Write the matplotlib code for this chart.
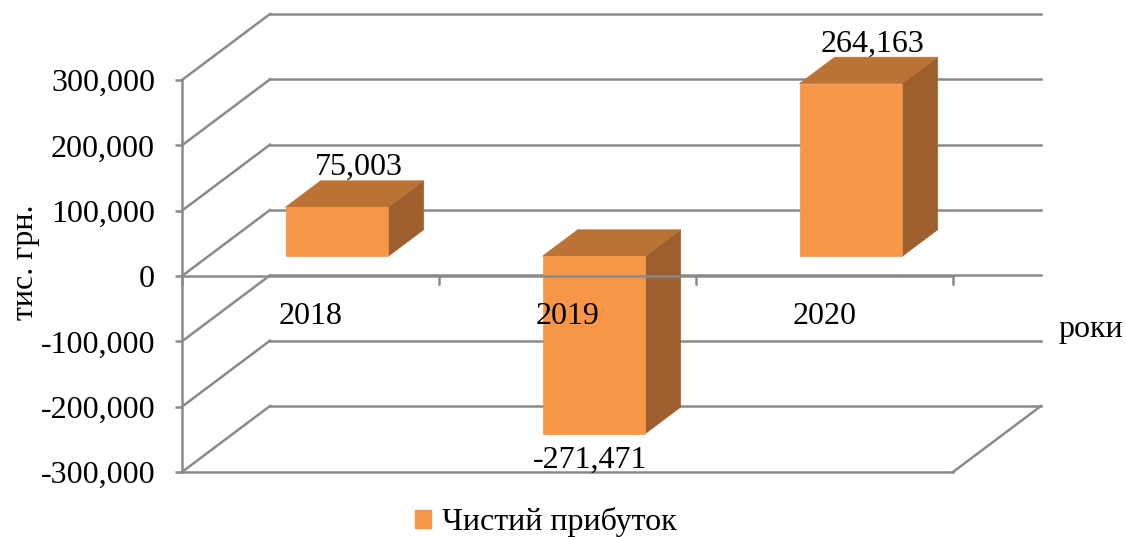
import matplotlib
matplotlib.use('Agg')
import matplotlib.pyplot as plt
from matplotlib.patches import Polygon, Patch

categories = ['2018', '2019', '2020']
values = [75003, -271471, 264163]
yticks = [-300000, -200000, -100000, 0, 100000, 200000, 300000]
series_name = 'Чистий прибуток'
y_title = 'тис. грн.'
x_title = 'роки'

plt.rcParams['font.family'] = ['Liberation Serif', 'DejaVu Serif']
FS = 23
PT = 0.72  # points per pixel at dpi 100

W, H = 1126, 537
fig = plt.figure(figsize=(W / 100, H / 100), dpi=100)
ax = fig.add_axes([182 / W, (H - 472) / H, (953 - 182) / W, (472 - 80) / H])
n = len(categories)
ymin, ymax = yticks[0], yticks[-1]
ax.set_xlim(0, n)
ax.set_ylim(ymin, ymax)

# depth vector (data units)
DX = 88 / 257
DY = 66 * (ymax - ymin) / 392

grid = '#8a8a8a'
LW = 1.8

# back wall gridlines and side wall diagonals
for v in yticks:
    ax.plot([DX, n + DX], [v + DY, v + DY], color=grid, lw=LW, clip_on=False, zorder=1)
    ax.plot([0, DX], [v, v + DY], color=grid, lw=LW, clip_on=False, zorder=1)
# floor edges
ax.plot([0, n], [ymin, ymin], color=grid, lw=LW, clip_on=False, zorder=1)
ax.plot([n, n + DX], [ymin, ymin + DY], color=grid, lw=LW, clip_on=False, zorder=1)

# 3D bars
f0, f1 = 0.3, 0.7
bw = 0.4
c_front, c_top, c_side = '#F79646', '#BB7235', '#9C5F2D'


def P(x, y, f):
    return (x + f * DX, y + f * DY)


for i, v in enumerate(values):
    x0 = i + 0.5 - bw / 2
    x1 = i + 0.5 + bw / 2
    lo, hi = min(0, v), max(0, v)
    front = [P(x0, lo, f0), P(x1, lo, f0), P(x1, hi, f0), P(x0, hi, f0)]
    top = [P(x0, hi, f0), P(x1, hi, f0), P(x1, hi, f1), P(x0, hi, f1)]
    side = [P(x1, lo, f0), P(x1, lo, f1), P(x1, hi, f1), P(x1, hi, f0)]
    for poly, c in ((side, c_side), (top, c_top), (front, c_front)):
        ax.add_patch(Polygon(poly, closed=True, facecolor=c, edgecolor=c, lw=0.5,
                             clip_on=False, zorder=3))
    if v >= 0:
        ax.annotate(f'{v:,}', xy=(i + 0.5 + 0.5 * DX, v + 0.5 * DY),
                    xytext=(4.5 * PT, 19 * PT), textcoords='offset points',
                    ha='center', va='baseline', fontsize=FS, zorder=6,
                    annotation_clip=False)
    else:
        ax.annotate(f'{v:,}', xy=(i + 0.5 + f0 * DX, v + f0 * DY),
                    xytext=(-4 * PT, -34 * PT), textcoords='offset points',
                    ha='center', va='baseline', fontsize=FS, zorder=6,
                    annotation_clip=False)

# category axis at zero
ax.plot([0, n], [0, 0], color=grid, lw=LW, clip_on=False, zorder=5)
tick_len = 8 * (ymax - ymin) / 392
for k in range(n + 1):
    ax.plot([k, k], [0, -tick_len], color=grid, lw=LW, clip_on=False, zorder=5)
for i, c in enumerate(categories):
    ax.annotate(c, xy=(i + 0.5, 0), xytext=(0, -48 * PT), textcoords='offset points',
                ha='center', va='baseline', fontsize=FS, zorder=6, annotation_clip=False)

# value axis
ax.set_yticks(yticks)
ax.set_yticklabels([f'{v:,}' for v in yticks])
ax.set_xticks([])
for s in ('top', 'right', 'bottom'):
    ax.spines[s].set_visible(False)
ax.spines['left'].set_color(grid)
ax.spines['left'].set_linewidth(LW)
ax.tick_params(axis='y', direction='out', length=7 * PT, width=LW, color=grid,
               labelsize=FS, pad=20 * PT)
ax.patch.set_alpha(0)

fig.text(26 / W, 1 - 262 / H, y_title, rotation=90, ha='center', va='center', fontsize=FS)
fig.text(1091 / W, 1 - 337 / H, x_title, ha='center', va='baseline', fontsize=FS)

fig.legend(handles=[Patch(facecolor=c_front, edgecolor=c_front, label=series_name)],
           loc='center', bbox_to_anchor=(546 / W, 1 - 522 / H), frameon=False,
           fontsize=FS, handlelength=0.5, handleheight=0.5, handletextpad=0.35,
           borderpad=0, borderaxespad=0)

fig.savefig('out.png', dpi=100)
